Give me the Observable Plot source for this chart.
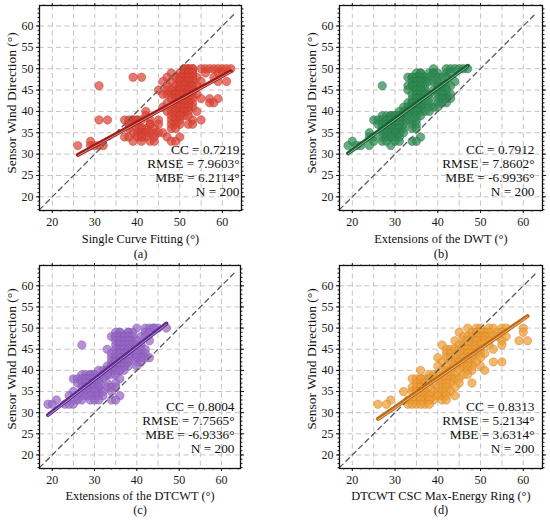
<!DOCTYPE html>
<html><head><meta charset="utf-8">
<script src="https://cdn.jsdelivr.net/npm/d3@7"></script>
<script src="https://cdn.jsdelivr.net/npm/@observablehq/plot@0.6"></script>
<style>
body{margin:0;background:#fff;}
#wrap{position:relative;width:550px;height:522px;overflow:hidden;}
.panel{position:absolute;}
</style></head><body><div id="wrap"></div>
<script>
// axis ticks
const xTicks = [20, 30, 40, 50, 60];
const yTicks = [20, 25, 30, 35, 40, 45, 50, 55, 60];
const gridVals = [20, 25, 30, 35, 40, 45, 50, 55, 60];
const xMinor = d3.range(18, 65, 2);
const yMinor = d3.range(17, 65, 1);
const xDomain = [17, 64.5];
const yDomain = [16.8, 64.8];
const diagRange = [17, 63];
const yLabel = "Sensor Wind Direction (°)";

// (a) Single Curve Fitting: rows of [sensor direction, estimated directions]
const scfRows = [
  [50, [51,52,53,55,56,57,58,59,60,61,62,52,53,51]],
  [49, [48,50,51,52,53,56,59,60,51,52,53]],
  [48, [39,41,47,49,50,51,52,53,54,58,51,52,53,50]],
  [47, [46,48,50,51,52,53,55,59,61,51,52,50]],
  [46, [31,47,49,50,51,52,53,54,50,52,53,51]],
  [45, [45,47,48,49,50,51,52,53,50,51,52]],
  [44, [46,47,48,49,50,51,52,53,54,49,51,52,50]],
  [43, [48,49,51,52,55,57,59,51,52,53]],
  [42, [47,49,50,51,52,53,57,58,50,52,51]],
  [41, [46,48,49,50,51,52,53,50,51,52]],
  [40, [42,47,48,49,50,51,52,54,49,51]],
  [39, [42,48,49,50,51,52,50]],
  [38, [31,33,37,38,39,40,41,43,45,48,49,50,53,55,39,40]],
  [37, [38,40,43,45,48,49,50,52,53,43]],
  [36, [38,40,41,42,44,48,49,41]],
  [35, [39,40,41,42,43,44,45,46,41,42]],
  [34, [37,38,40,41,42,44,47,50,41]],
  [33, [29,39,41,43,44,48,49]],
  [32, [26,29,30,31,32]]
];
// (b) Extensions of the DWT
const dwtRows = [
  [50, [39,42,43,44,45,46,47]],
  [49, [35,36,38,39,40,42,43,36,39]],
  [48, [33,34,35,36,37,38,40,41,42,35,36,34]],
  [47, [34,35,36,37,38,39,40,44,35,36]],
  [46, [27,33,34,35,36,37,40,41,42,43,34,35,36]],
  [45, [33,35,36,37,39,40,41,42,36,40,35]],
  [44, [34,35,36,37,38,40,41,42,43,35,41,36,37]],
  [43, [34,35,36,38,40,41,42,43,36,41,35]],
  [42, [33,34,35,36,37,38,40,41,42,35,36,34]],
  [41, [32,33,34,35,36,38,39,40,34,35,36]],
  [40, [31,32,33,34,35,36,37,38,33,34,35]],
  [39, [27,28,29,30,31,32,33,35,36,29,30,31]],
  [38, [25,26,27,28,29,30,31,32,33,34,35,28,29,30,31]],
  [37, [26,27,28,29,30,31,32,34,35,30,31,29]],
  [36, [27,28,29,30,31,32,34,35,30,31,29]],
  [35, [24,27,28,29,30,31,32,30]],
  [34, [24,25,27,28,29,30,31,36,29]],
  [33, [20,25,27,28,30,31,34,35]],
  [32, [19,21,22,24,29]]
];
// (c) Extensions of the DTCWT
const dtcwtRows = [
  [50, [40,42,43,44,45,47,44]],
  [49, [35,36,38,39,42,43,36,38]],
  [48, [34,35,36,37,38,39,41,42,35,36,37,38]],
  [47, [35,36,37,38,39,40,43,36,37,38]],
  [46, [27,35,36,37,38,39,40,41,36,37,38]],
  [45, [33,35,36,37,38,39,41,42,36,37,38]],
  [44, [34,35,36,37,38,39,40,41,42,36,40,37,38]],
  [43, [34,35,36,38,40,41,42,43,36,41,38,40]],
  [42, [34,35,36,37,38,40,41,35,36,37,38]],
  [41, [33,34,35,36,37,38,40,34,35,36,37]],
  [40, [31,32,33,34,35,36,37,33,34,35,36]],
  [39, [27,28,29,30,32,33,34,35,29,30,33]],
  [38, [25,26,27,28,29,30,31,32,36,28,29,30,31]],
  [37, [26,27,28,29,30,31,33,35,29,30,28]],
  [36, [27,28,29,30,31,33,34,35,30,31,28]],
  [35, [25,27,28,29,30,31,32,34,30]],
  [34, [24,26,27,28,30,31,32,36,29]],
  [33, [21,25,26,27,29,30,31,34,35]],
  [32, [19,20,23,24,25]]
];
// (d) DTCWT CSC Max-Energy Ring
const cscRows = [
  [50, [47,49,50,52,53,55,56,60]],
  [49, [45,48,49,50,51,52,54,55,60,50]],
  [48, [46,47,48,49,50,51,52,53,54,56,50,51,49]],
  [47, [44,46,47,48,49,50,51,52,55,59,61,49]],
  [46, [41,45,46,47,48,49,50,52,55,47]],
  [45, [42,43,44,45,46,47,48,49,50,53,46,47]],
  [44, [42,43,45,46,47,48,49,50,51,47,48]],
  [43, [40,42,43,44,46,47,48,50,44]],
  [42, [41,43,44,45,46,47,48,49,53,55,45,47]],
  [41, [40,42,44,45,46,47,48,50,46,47]],
  [40, [36,41,42,43,45,47,48,51]],
  [39, [38,39,40,42,43,44,46,47]],
  [38, [34,35,36,37,38,40,41,42,43,44,45,36,38]],
  [37, [35,36,37,38,39,41,42,43,45,48,37,42]],
  [36, [34,35,36,38,40,41,42,44,36]],
  [35, [32,34,35,36,37,39,40,41,42,43,37,36]],
  [34, [35,36,37,38,39,40,41,42,44,38,40]],
  [33, [29,33,34,35,36,37,38,39,41,42,36,38]],
  [32, [26,28,33,34,35,37,38,36]]
];

const statsA = ["CC = 0.7219", "RMSE = 7.9603°", "MBE = 6.2114°", "N = 200"];
const statsB = ["CC = 0.7912", "RMSE = 7.8602°", "MBE = -6.9936°", "N = 200"];
const statsC = ["CC = 0.8004", "RMSE = 7.7565°", "MBE = -6.9336°", "N = 200"];
const statsD = ["CC = 0.8313", "RMSE = 5.2134°", "MBE = 3.6314°", "N = 200"];

const expand = rows => rows.flatMap(([y, xs]) => xs.map(x => ({x, y})));

const panels = [
  {rows: scfRows, xLabel: "Single Curve Fitting (°)", caption: "(a)", stats: statsA,
   fill: "#dc4435", line: "#a11a16", left: 0, top: 0, mL: 39, mR: 34, mT: 5, mB: 51, sdx: -2, sdy: 165, lblDy: 29, capDy: 44, ylDy: -5},
  {rows: dwtRows, xLabel: "Extensions of the DWT (°)", caption: "(b)", stats: statsB,
   fill: "#2e8b52", line: "#17602f", left: 275, top: 0, mL: 64, mR: 8, mT: 5, mB: 51, sdx: -8, sdy: 165, lblDy: 29, capDy: 44, ylDy: -5},
  {rows: dtcwtRows, xLabel: "Extensions of the DTCWT (°)", caption: "(c)", stats: statsC,
   fill: "#9766c8", line: "#5f2a8e", left: 0, top: 261, mL: 39, mR: 35, mT: 4, mB: 54, sdx: -6, sdy: 162, lblDy: 28, capDy: 42, ylDy: -8},
  {rows: cscRows, xLabel: "DTCWT CSC Max-Energy Ring (°)", caption: "(d)", stats: statsD,
   fill: "#f09c33", line: "#c06a14", left: 275, top: 261, mL: 64, mR: 8, mT: 4, mB: 54, sdx: -8, sdy: 162, lblDy: 28, capDy: 42, ylDy: -8}
];

const font = '"Liberation Serif", "Times New Roman", serif';
const wrap = document.getElementById("wrap");

for (const p of panels) {
  const pts = expand(p.rows);
  const diag = diagRange.map(v => ({x: v, y: v}));
  const blank = () => "";
  const edge = d3.color(p.fill).darker(0.5).formatHex();
  const svg = Plot.plot({
    width: 275, height: 261,
    marginLeft: p.mL, marginRight: p.mR, marginTop: p.mT, marginBottom: p.mB,
    style: {fontFamily: font, fontSize: "12px", color: "#1a1a1a", background: "transparent", overflow: "visible"},
    x: {domain: xDomain},
    y: {domain: yDomain},
    marks: [
      Plot.gridX({ticks: gridVals, stroke: "#c4c4c4", strokeOpacity: 1, strokeDasharray: "5,3.5"}),
      Plot.gridY({ticks: gridVals, stroke: "#c4c4c4", strokeOpacity: 1, strokeDasharray: "5,3.5"}),
      Plot.dot(pts, {x: "x", y: "y", r: 4.2, fill: p.fill, fillOpacity: 0.72, stroke: edge, strokeOpacity: 0.55, strokeWidth: 0.8}),
      Plot.line(diag, {x: "x", y: "y", stroke: "#5a5a5a", strokeWidth: 1.3, strokeDasharray: "5,4"}),
      Plot.linearRegressionY(pts, {x: "x", y: "y", stroke: p.line, strokeWidth: 4, ci: 0}),
      Plot.linearRegressionY(pts, {x: "x", y: "y", stroke: "#ffffff", strokeOpacity: 0.75, strokeWidth: 0.7, dy: 0.8, ci: 0}),
      Plot.frame({stroke: "#111", strokeWidth: 1.3}),
      Plot.axisX({ticks: xTicks, anchor: "bottom", tickSize: 3, tickPadding: 4, fontSize: 12, label: null}),
      Plot.axisX({ticks: xMinor, anchor: "bottom", tickSize: 1.5, tickFormat: blank, label: null}),
      Plot.axisX({ticks: xTicks, anchor: "top", tickSize: 3, tickFormat: blank, label: null}),
      Plot.axisX({ticks: xMinor, anchor: "top", tickSize: 1.5, tickFormat: blank, label: null}),
      Plot.axisY({ticks: yTicks, anchor: "left", tickSize: 3, tickPadding: 3, fontSize: 12, label: null}),
      Plot.axisY({ticks: yMinor, anchor: "left", tickSize: 1.5, tickFormat: blank, label: null}),
      Plot.axisY({ticks: yTicks, anchor: "right", tickSize: 3, tickFormat: blank, label: null}),
      Plot.axisY({ticks: yMinor, anchor: "right", tickSize: 1.5, tickFormat: blank, label: null}),
      Plot.text([p.stats.join("\n")], {text: d => d, frameAnchor: "top-right", textAnchor: "end", lineAnchor: "middle",
        lineHeight: 1.05, dx: p.sdx, dy: p.sdy, fontSize: 13.3, fill: "#111"}),
      Plot.text([p.xLabel], {text: d => d, frameAnchor: "bottom", lineAnchor: "middle", dy: p.lblDy, fontSize: 12.4, fill: "#111"}),
      Plot.text([p.caption], {text: d => d, frameAnchor: "bottom", lineAnchor: "middle", dy: p.capDy, fontSize: 12.4, fill: "#111"}),
      Plot.text([yLabel], {text: d => d, frameAnchor: "left", rotate: -90, lineAnchor: "middle", textAnchor: "middle",
        dx: -27.5, dy: p.ylDy, fontSize: 13.5, fill: "#111"})
    ]
  });
  const div = document.createElement("div");
  div.className = "panel";
  div.style.left = p.left + "px";
  div.style.top = p.top + "px";
  div.appendChild(svg);
  wrap.appendChild(div);
}
</script></body></html>
